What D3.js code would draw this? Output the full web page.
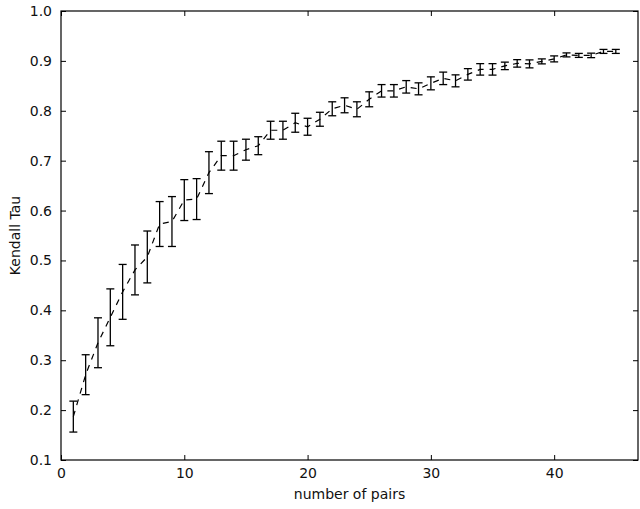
<!DOCTYPE html>
<html>
<head>
<meta charset="utf-8">
<script src="https://cdn.jsdelivr.net/npm/d3@7"></script>
<style>
  body { margin: 0; background: #fff; }
  text { font-family: "DejaVu Sans", sans-serif; fill: #111; }
</style>
</head>
<body>
<svg id="chart" width="640" height="509"></svg>
<script>
// number of pairs
var pairs = d3.range(1, 46);
// mean Kendall tau per number of pairs
var tau = [0.187, 0.271, 0.335, 0.386, 0.437, 0.481, 0.507, 0.573, 0.578, 0.621,
           0.623, 0.676, 0.710, 0.710, 0.722, 0.730, 0.761, 0.761, 0.776, 0.768,
           0.783, 0.804, 0.811, 0.803, 0.823, 0.840, 0.840, 0.848, 0.844, 0.855,
           0.865, 0.860, 0.873, 0.883, 0.883, 0.890, 0.895, 0.894, 0.899, 0.904,
           0.912, 0.911, 0.911, 0.919, 0.919];
// error bar half-lengths
var tauErr = [0.031, 0.040, 0.050, 0.057, 0.055, 0.050, 0.052, 0.045, 0.050, 0.041,
              0.041, 0.042, 0.029, 0.029, 0.021, 0.018, 0.018, 0.018, 0.019, 0.017,
              0.014, 0.014, 0.015, 0.015, 0.015, 0.0125, 0.0125, 0.0125, 0.012, 0.013,
              0.0125, 0.012, 0.0115, 0.0115, 0.0115, 0.0075, 0.0075, 0.008, 0.005, 0.006,
              0.004, 0.004, 0.0045, 0.004, 0.004];
var xTicks = [0, 10, 20, 30, 40];
var yTicks = [0.1, 0.2, 0.3, 0.4, 0.5, 0.6, 0.7, 0.8, 0.9, 1.0];

(function () {
  var svg = d3.select("#chart");
  var mL = 61, mR = 638, mT = 11, mB = 460;

  var x = d3.scaleLinear().domain([0, 46.8]).range([mL, mR]);
  var y = d3.scaleLinear().domain([0.1, 1.0]).range([mB, mT]);

  var data = pairs.map(function (p, i) { return { p: p, v: tau[i], e: tauErr[i] }; });

  svg.append("rect").attr("width", 640).attr("height", 509).attr("fill", "#fff");

  // axes, inward ticks on all four sides
  var tl = 5;
  function noDomain(g) { g.select(".domain").remove(); }
  svg.append("g").attr("transform", "translate(0," + mB + ")")
    .call(d3.axisBottom(x).tickValues(xTicks).tickFormat(d3.format("d")).tickSizeInner(-tl).tickSizeOuter(0).tickPadding(8))
    .call(noDomain);
  svg.append("g").attr("transform", "translate(0," + mT + ")")
    .call(d3.axisTop(x).tickValues(xTicks).tickFormat("").tickSizeInner(-tl).tickSizeOuter(0))
    .call(noDomain);
  svg.append("g").attr("transform", "translate(" + mL + ",0)")
    .call(d3.axisLeft(y).tickValues(yTicks).tickFormat(d3.format(".1f")).tickSizeInner(-tl).tickSizeOuter(0).tickPadding(9))
    .call(noDomain);
  svg.append("g").attr("transform", "translate(" + mR + ",0)")
    .call(d3.axisRight(y).tickValues(yTicks).tickFormat("").tickSizeInner(-tl).tickSizeOuter(0))
    .call(noDomain);

  svg.selectAll(".tick text").attr("font-size", 14).attr("font-family", "DejaVu Sans").style("fill", "#111");
  svg.selectAll(".tick line").attr("stroke", "#000");

  // dashed mean line
  svg.append("path")
    .datum(data)
    .attr("fill", "none")
    .attr("stroke", "#000")
    .attr("stroke-width", 1.2)
    .attr("stroke-dasharray", "6,6")
    .attr("d", d3.line().x(function (d) { return x(d.p); }).y(function (d) { return y(d.v); }));

  // error bars
  var eb = svg.append("g").attr("stroke", "#000").attr("stroke-width", 1.3);
  eb.selectAll("line.v").data(data).enter().append("line")
    .attr("x1", function (d) { return x(d.p); }).attr("x2", function (d) { return x(d.p); })
    .attr("y1", function (d) { return y(d.v + d.e); }).attr("y2", function (d) { return y(d.v - d.e); });
  [1, -1].forEach(function (s) {
    eb.selectAll("line.cap" + s).data(data).enter().append("line")
      .attr("x1", function (d) { return x(d.p) - 4; }).attr("x2", function (d) { return x(d.p) + 4; })
      .attr("y1", function (d) { return y(d.v + s * d.e); })
      .attr("y2", function (d) { return y(d.v + s * d.e); });
  });

  // frame
  svg.append("rect").attr("x", mL).attr("y", mT).attr("width", mR - mL).attr("height", mB - mT)
    .attr("fill", "none").attr("stroke", "#000").attr("stroke-width", 1.2);

  svg.append("text").attr("x", (mL + mR) / 2).attr("y", 499).attr("text-anchor", "middle")
    .attr("font-size", 14).text("number of pairs");
  svg.append("text").attr("transform", "translate(20," + ((mT + mB) / 2) + ") rotate(-90)")
    .attr("text-anchor", "middle").attr("font-size", 14).text("Kendall Tau");
})();
</script>
</body>
</html>
